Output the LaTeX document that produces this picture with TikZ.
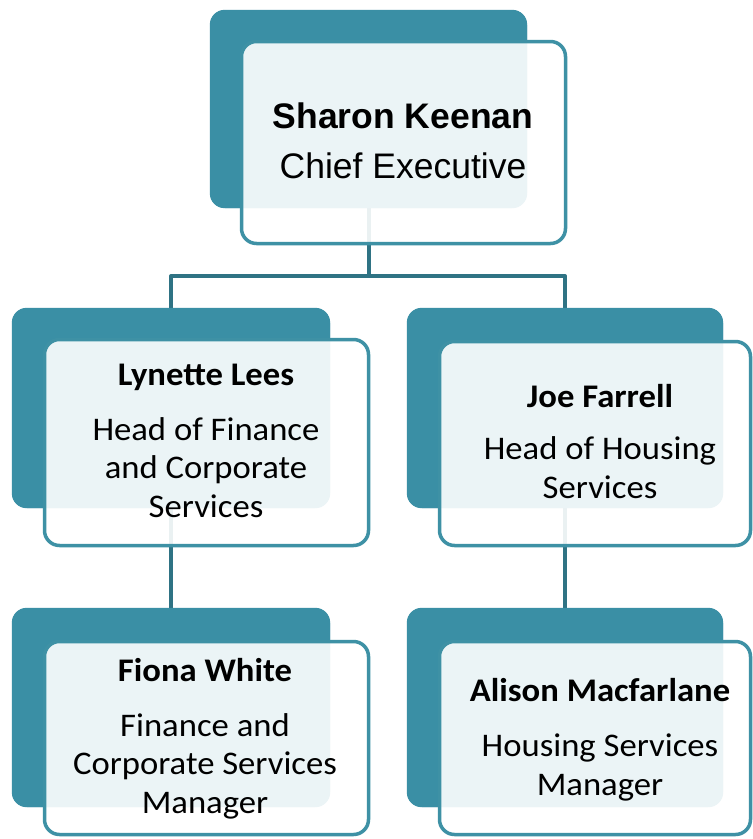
\documentclass[tikz,border=0pt]{standalone}
\usepackage{fontspec}
\setmainfont{Carlito}
\newfontfamily\arialfont{Liberation Sans}
\newfontfamily\cardfont[FakeStretch=1.05]{Carlito}
\definecolor{tealback}{RGB}{58,143,165}
\definecolor{tealedge}{RGB}{62,145,165}
\definecolor{tealline}{RGB}{47,115,132}
\begin{document}
\begin{tikzpicture}[x=1pt,y=-1pt,
  backbox/.style={rectangle, rounded corners=15pt, fill=tealback, draw=none, inner sep=0pt},
  frontbox/.style={rectangle, rounded corners=15pt, fill=white, fill opacity=0.9, draw=tealedge, draw opacity=1, line width=3.5pt, inner sep=0pt},
  conn/.style={draw=tealline, line width=4pt, line join=round},
  ceotext/.style={anchor=base, align=center, inner sep=0pt, font=\arialfont\fontsize{35.5}{50}\selectfont},
  stafftext/.style={anchor=base, align=center, inner sep=0pt, font=\cardfont\fontsize{33}{38.5}\selectfont}]
  \useasboundingbox (0,0) rectangle (753,839);
  \fill[white] (0,0) rectangle (753,839);

  % rear tiles
  \node[backbox, minimum width=317pt, minimum height=198pt] (ceoBack) at (368.5,109) {};
  \node[backbox, minimum width=318pt, minimum height=200pt] (finBack) at (171,408) {};
  \node[backbox, minimum width=316pt, minimum height=200pt] (houBack) at (565,408) {};
  \node[backbox, minimum width=318pt, minimum height=199pt] (fmBack) at (171,707.5) {};
  \node[backbox, minimum width=316pt, minimum height=199pt] (hmBack) at (565,707.5) {};

  % reporting lines
  \coordinate (bus) at (368.5,276);
  \draw[conn] (ceoBack.south) -- (bus) -| (finBack.north);
  \draw[conn] (bus) -| (houBack.north);
  \draw[conn] (finBack.south) -- (fmBack.north);
  \draw[conn] (houBack.south) -- (hmBack.north);

  % redraw rear tiles over line ends
  \fill[tealback, rounded corners=15pt] (ceoBack.south west) rectangle (ceoBack.north east);
  \fill[tealback, rounded corners=15pt] (finBack.south west) rectangle (finBack.north east);
  \fill[tealback, rounded corners=15pt] (houBack.south west) rectangle (houBack.north east);
  \fill[tealback, rounded corners=15pt] (fmBack.south west) rectangle (fmBack.north east);
  \fill[tealback, rounded corners=15pt] (hmBack.south west) rectangle (hmBack.north east);

  % front cards
  \node[frontbox, minimum width=324pt, minimum height=202pt] (ceoCard) at (403.5,142.5) {};
  \node[frontbox, minimum width=324pt, minimum height=206pt] (finCard) at (206.5,442.5) {};
  \node[frontbox, minimum width=311pt, minimum height=204pt] (houCard) at (595,443.5) {};
  \node[frontbox, minimum width=324pt, minimum height=193pt] (fmCard) at (206.5,738) {};
  \node[frontbox, minimum width=311pt, minimum height=193pt] (hmCard) at (595,738) {};

  % names and titles (anchored at the baseline of the last line)
  \node[ceotext] (ceoText) at (403,178) {\textbf{Sharon Keenan}\\Chief Executive};
  \node[stafftext] (finText) at (206,517) {\textbf{Lynette Lees}\\[16.5pt]Head of Finance\\and Corporate\\Services};
  \node[stafftext] (houText) at (600,498) {\textbf{Joe Farrell}\\[14pt]Head of Housing\\Services};
  \node[stafftext] (fmText) at (205,813) {\textbf{Fiona White}\\[16.5pt]Finance and\\Corporate Services\\Manager};
  \node[stafftext] (hmText) at (600,795) {\textbf{Alison Macfarlane}\\[16.5pt]Housing Services\\Manager};
\end{tikzpicture}
\end{document}
